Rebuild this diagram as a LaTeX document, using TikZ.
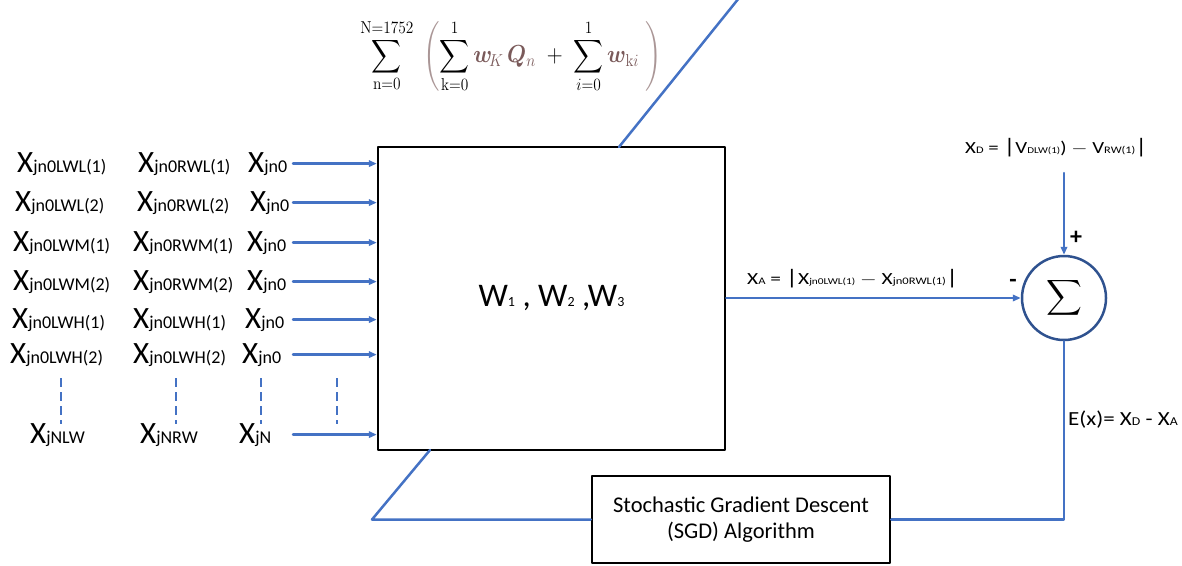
\RequirePackage{fix-cm}
\documentclass[tikz,border=0pt]{standalone}
\usepackage{amsmath,bm}
\usepackage[no-math]{fontspec}
\setmainfont{Carlito}
\usetikzlibrary{arrows.meta}

\definecolor{blu}{RGB}{68,114,196}
\definecolor{bluscuro}{RGB}{47,82,143}
\definecolor{bruno}{RGB}{122,90,90}
\definecolor{parentesi}{RGB}{170,150,150}

\newcommand{\corpo}[2]{{\fontsize{#1}{#1}\selectfont #2}}
\newcommand{\etich}[1]{\corpo{31}{X}\corpo{18}{#1}}

\begin{document}
\begin{tikzpicture}[x=1pt,y=-1pt,line join=round,line cap=round,
    blocco/.style={draw=black,line width=2.5pt,inner sep=0pt},
    ingresso/.style={anchor=base west,inner sep=0pt},
    didascalia/.style={inner sep=0pt},
    linea/.style={draw=blu,line width=2.5pt},
    freccia/.style={linea,-{Triangle[length=8pt,width=6.5pt]}},
    tratto/.style={linea,line cap=butt,dash pattern=on 9pt off 5pt}]

  \useasboundingbox (0,0) rectangle (1182,565);

  % ---- la rete e la formula sopra ---------------------------------------
  \node[blocco,minimum width=347,minimum height=303] (net) at (551.5,298.5)
    {\corpo{33}{W}\corpo{14}{1}\corpo{33}{ , W}\corpo{14}{2}\corpo{33}{ ,W}\corpo{14}{3}};

  \node[didascalia] (formula) at (511,56) {\scalebox{1}[1.12]{\corpo{22}{$\displaystyle
    \sum_{\mathrm{n=0}}^{\mathrm{N=1752}}\;\color{parentesi}\left(\color{black}
    \sum_{\mathrm{k=0}}^{1}{\color{bruno}\bm{w}_{\!K}\,\bm{Q}_n}\;+\;
    \sum_{i=0}^{1}{\color{bruno}\bm{w}_{\mathrm{k}i}}\;\color{parentesi}\right)$}}};

  \coordinate (alto) at (619,147);
  \coordinate (fuori) at (739,-2);
  \draw[linea] (alto) -- (fuori);

  % ---- gli ingressi -----------------------------------------------------
  \coordinate (inizio) at (293,0);
  \foreach \r/\y/\xa/\xb/\xc/\a/\b in {1/172/17/138/248/LWL(1)/RWL(1),
      2/211/15/137/250/LWL(2)/RWL(2), 3/251/13/133/247/LWM(1)/RWM(1),
      4/290/13/133/247/LWM(2)/RWM(2), 5/328/12/133/245/LWH(1)/LWH(1),
      6/363/10/133/242/LWH(2)/LWH(2)} {
    \node[ingresso] (a\r) at (\xa,\y) {\etich{jn0\a}};
    \node[ingresso] (b\r) at (\xb,\y) {\etich{jn0\b}};
    \node[ingresso] (c\r) at (\xc,\y) {\etich{jn0}};
    \draw[freccia] (c\r -| inizio) -- (c\r -| net.west);
  }

  \node[ingresso] (n1) at (30,443) {\etich{jNLW}};
  \node[ingresso] (n2) at (140,443) {\etich{jNRW}};
  \node[ingresso] (n3) at (239,443) {\etich{jN}};
  \draw[freccia] (n3 -| inizio) -- (n3 -| net.west);

  \foreach \x in {61,176,261,337}
    \draw[tratto] (\x,378) -- (\x,424);

  % ---- il sommatore -----------------------------------------------------
  \node[circle,draw=bluscuro,line width=2.5pt,minimum size=84,inner sep=0pt] (somma)
    at (1064,298) {\corpo{26}{$\displaystyle\sum$}};

  \node[didascalia,anchor=base west] (xd) at (965,153)
    {\scalebox{1.23}[1]{\corpo{17}{X}\corpo{10}{D}\corpo{17}{ = }\corpo{21}{|}\corpo{17}{V}\corpo{9}{DLW(1)}\corpo{17}{) $-$ V}\corpo{10}{RW(1)}\corpo{21}{|}}};
  \coordinate (ingD) at (1064,173);
  \draw[freccia] (ingD) -- (somma.north);
  \node[didascalia] (piu) at (1076,238) {\corpo{24}{\textbf{+}}};

  \node[didascalia,anchor=base west] (xa) at (747,284)
    {\scalebox{1.26}[1]{\corpo{17}{X}\corpo{10}{A}\corpo{17}{ = }\corpo{21}{|}\corpo{17}{X}\corpo{9}{jn0LWL(1)}\corpo{17}{ $-$ X}\corpo{10}{jn0RWL(1)}\corpo{21}{|}}};
  \draw[freccia] (net.east |- somma) -- (somma.west);
  \node[didascalia] (meno) at (1013,283) {\corpo{24}{\textbf{-}}};

  % ---- il ritorno con la discesa del gradiente --------------------------
  \node[blocco,minimum width=298,minimum height=87,align=center,
    font=\fontsize{22.5}{26}\selectfont] (sgd) at (741,519.5)
    {Stochastic Gradient Descent\\(SGD) Algorithm};

  \draw[linea] (somma.south) |- (sgd.east);
  \node[didascalia,anchor=base west] (errore) at (1068,425)
    {\scalebox{1.15}[1]{\corpo{20}{E(x)= X}\corpo{12}{D}\corpo{20}{ - X}\corpo{12}{A}}};

  \coordinate (piega) at (372,519.5);
  \coordinate (attacco) at (430,450);
  \draw[linea] (sgd.west) -- (piega) -- (attacco);

\end{tikzpicture}
\end{document}
